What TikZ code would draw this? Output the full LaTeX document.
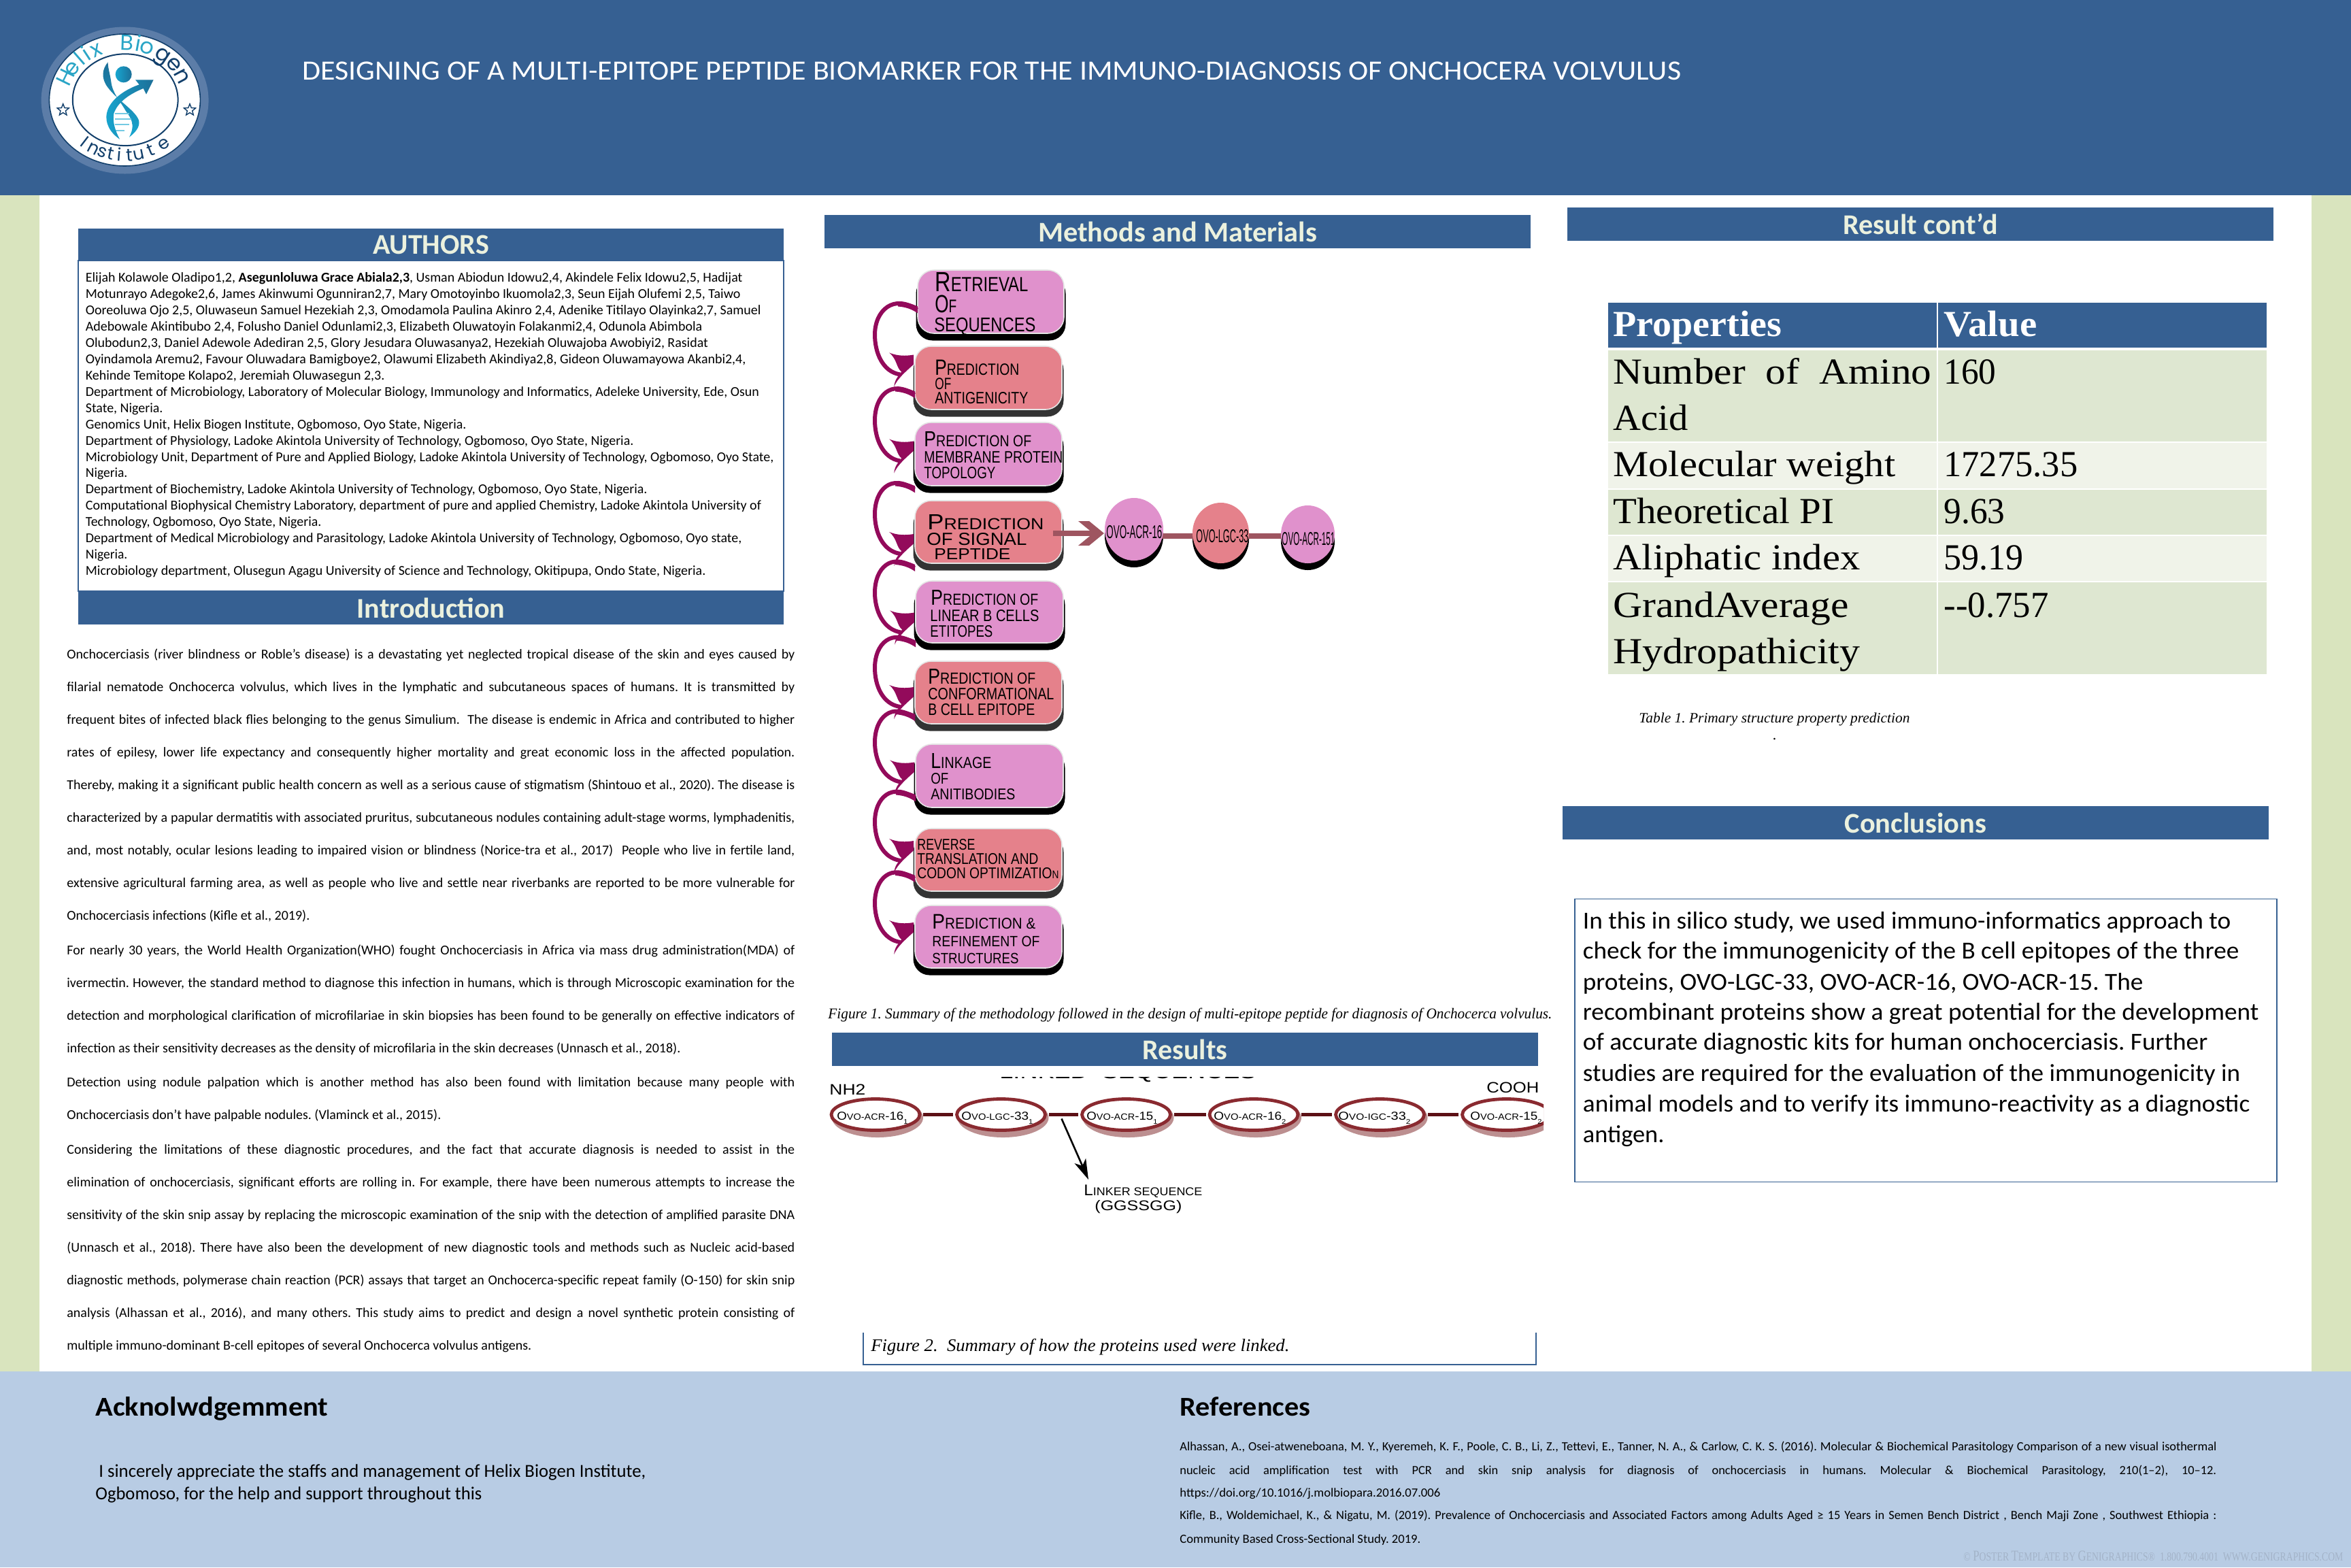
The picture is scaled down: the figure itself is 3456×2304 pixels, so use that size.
\documentclass[tikz,border=0pt]{standalone}
\usepackage{graphicx}
\usepackage{fontspec}
\setmainfont{Carlito}
\newfontfamily\arial{Liberation Sans}
\newfontfamily\tms{Liberation Serif}
\newfontfamily\logof{Poppins}
\usetikzlibrary{shapes.geometric,calc,arrows.meta}
\definecolor{hdr}{HTML}{366092}
\definecolor{sidegreen}{HTML}{D9E4BE}
\definecolor{footer}{HTML}{B8CCE4}
\definecolor{cream}{HTML}{EBF1DE}
\definecolor{pinkb}{HTML}{E091CC}
\definecolor{salmb}{HTML}{E5818B}
\definecolor{swoop}{HTML}{930A5B}
\definecolor{linkc}{HTML}{9E5560}
\definecolor{rowd}{HTML}{DEE7D1}
\definecolor{rowl}{HTML}{F0F3E9}
\definecolor{ringc}{HTML}{5C7DA8}
\definecolor{navy}{HTML}{123F6B}
\definecolor{tealc}{HTML}{2AA5C6}
\definecolor{tealm}{HTML}{17A6D0}
\definecolor{teald}{HTML}{1C6F98}
\definecolor{ellr}{HTML}{8A2A30}
\definecolor{ells}{HTML}{BC8F90}
\definecolor{lnkd}{HTML}{5C1015}
\definecolor{wmark}{HTML}{A3B3C8}
\newsavebox{\jbx}
\newcommand{\jfit}[2]{\sbox{\jbx}{\frenchspacing #2}\ifdim\wd\jbx>#1\relax\resizebox{#1}{\height}{\usebox{\jbx}}\else\hbox to #1{\unhbox\jbx}\fi}
% left line fitted to an end x
\newcommand{\tline}[6]{\pgfmathsetlengthmacro\tlw{(#5-#3)*0.5}\node[#1] (#2) at (#3,#4) {\resizebox{\tlw}{\height}{\frenchspacing #6}};}
% justified line
\newcommand{\jline}[6]{\pgfmathsetlengthmacro\tlw{(#5-#3)*0.5}\node[#1] (#2) at (#3,#4) {\jfit{\tlw}{#6}};}
% band with centred title
\newcommand{\band}[7]{\pgfmathsetlengthmacro\bw{(#4-#2)*0.5}\pgfmathsetlengthmacro\bh{(#5-#3)*0.5}\pgfmathsetlengthmacro\tlw{#6*0.5}\node[bandn,minimum width=\bw,minimum height=\bh] (#1) at ({(#2+#4)/2},{(#3+#5)/2}) {\resizebox{\tlw}{\height}{#7}};}
% flow box with a shadow
\newcommand{\flowbox}[7]{\pgfmathsetlengthmacro\bw{(#4-#2)*0.5}\pgfmathsetlengthmacro\bh{(#5-#3)*0.5}\pgfmathsetlengthmacro\sw{(#4-#2+5)*0.5}\node[flowsh,fill=#7,minimum width=\sw,minimum height=\bh] (#1s) at ({(#2+#4)/2},{(#3+#5)/2+10.5}) {};\node[flowbx,fill=#6,minimum width=\bw,minimum height=\bh] (#1) at ({(#2+#4)/2},{(#3+#5)/2}) {};}
% flow text: name x base endx capheight content
\newcommand{\ft}[6]{\pgfmathsetlengthmacro\tlw{(#4-#2)*0.5}\pgfmathsetlengthmacro\tlh{#5*0.5}\node[flowtxt] (#1) at (#2,#3) {\resizebox{\tlw}{\tlh}{#6}};}
\newcommand{\sm}[2]{{\fontsize{19}{19}\selectfont #1}{\fontsize{14}{14}\selectfont #2}}
% curved arrow between two boxes
\newcommand{\carrow}[4]{%
 \coordinate (S) at ($(#1.west)+(0,#2)$);
 \coordinate (T) at ($(#3.west)+(-1,#4)$);
 \coordinate (M) at ($(S)!.5!(T)$);
 \coordinate (L) at (X |- M);
 \fill[swoop] ($(S)+(1,-5)$) .. controls ($(S)+(-8,-9)$) and ($(S)+(-16,-12)$) .. ($(S)+(-30,-12)$) -- ($(S)+(-28,-5)$) .. controls ($(S)+(-16,-4)$) and ($(S)+(-8,-1)$) .. ($(S)+(1,5)$) -- cycle;
 \draw[swoopl] (S) .. controls ($(S)+(-34,-24)$) and ($(L)+(0,-36)$) .. (L) .. controls ($(L)+(0,26)$) and ($(T)+(-46,18)$) .. ($(T)+(-20,22)$);
 \fill[swoop] ($(T)+(-36,-10)$) .. controls ($(T)+(-24,-5)$) and ($(T)+(-12,-5)$) .. ($(T)+(0,-7)$) -- ($(T)+(0,7)$) .. controls ($(T)+(-12,18)$) and ($(T)+(-24,28)$) .. ($(T)+(-29,40)$) .. controls ($(T)+(-28,30)$) and ($(T)+(-24,26)$) .. ($(T)+(-18,18)$) .. controls ($(T)+(-26,12)$) and ($(T)+(-24,0)$) .. ($(T)+(-36,-10)$) -- cycle;
}
\newcommand{\ovot}[6]{\pgfmathsetlengthmacro\tlw{(#3-#2)*0.5}\node[ovotxt] (#1) at (#2,1646) {\resizebox{\tlw}{\height}{O{\fontsize{6.6}{7}\selectfont VO-#4}-#5\raisebox{-3pt}{\fontsize{5}{5}\selectfont #6}}};}
\newcommand{\ovoe}[3]{\node[ellsh] (#1s) at ({#2+3},{1643}) {};\node[ellr] (#1) at (#2,1638.5) {};}
\tikzset{
 bandn/.style={fill=hdr,draw=none,inner sep=0,text=cream,font=\bfseries\fontsize{21}{24}\selectfont},
 auth/.style={anchor=base west,inner sep=0,yshift=-3.8pt,font=\fontsize{10}{12}\selectfont},
 intro/.style={anchor=base west,inner sep=0,yshift=-3pt,font=\fontsize{10}{12}\selectfont},
 concl/.style={anchor=base west,inner sep=0,yshift=-4.8pt,font=\fontsize{18}{21}\selectfont},
 ackt/.style={anchor=base west,inner sep=0,yshift=-4.2pt,font=\fontsize{13.5}{16}\selectfont},
 refl/.style={anchor=base west,inner sep=0,yshift=-2.9pt,font=\fontsize{9.2}{11}\selectfont},
 headk/.style={anchor=base west,inner sep=0,font=\bfseries\fontsize{20}{24}\selectfont},
 flowbx/.style={rectangle,rounded corners=12pt,draw=white!80!gray,line width=0.8pt,inner sep=0},
 flowsh/.style={rectangle,rounded corners=12pt,draw=none,inner sep=0},
 flowtxt/.style={anchor=base west,inner sep=0,font=\arial\fontsize{14}{14}\selectfont},
 swoopl/.style={draw=swoop,line width=3pt},
 capt/.style={anchor=base west,inner sep=0,font=\tms\itshape\fontsize{11}{13}\selectfont},
 cellk/.style={anchor=base west,inner sep=0,font=\tms\fontsize{27}{30}\selectfont},
 cellh/.style={anchor=base west,inner sep=0,text=white,font=\tms\bfseries\fontsize{27}{30}\selectfont},
 circn/.style={ellipse,inner sep=0,draw=none},
 ellsh/.style={ellipse,fill=ells,draw=none,inner sep=0,minimum width=67pt,minimum height=29pt},
 ellr/.style={ellipse,fill=white,draw=ellr,line width=2.4pt,inner sep=0,minimum width=65pt,minimum height=23pt},
 ovotxt/.style={anchor=base west,inner sep=0,font=\arial\fontsize{8.5}{9}\selectfont},
 lnkl/.style={draw=lnkd,line width=2.6pt,shorten >=1.5pt,shorten <=1.5pt},
 chainl/.style={draw=linkc,line width=4.2pt},
 logostar/.style={star,star points=5,star point ratio=2.3,draw=navy,line width=0.7pt,fill=white,inner sep=0,minimum size=9pt},
 logotop/.style={anchor=base,inner sep=0,font=\logof\fontsize{16}{16}\selectfont},
 logobot/.style={anchor=base,inner sep=0,text=navy,font=\logof\fontsize{13}{13}\selectfont},
}
\begin{document}
\begin{tikzpicture}[x=0.5pt,y=-0.5pt]
\useasboundingbox (0,0) rectangle (3456,2304);
\fill[white] (0,0) rectangle (3456,2304);
\fill[sidegreen] (0,287) rectangle (58,2016);
\fill[sidegreen] (3398,287) rectangle (3456,2016);
\fill[hdr] (0,0) rectangle (3456,287);
\fill[footer] (0,2016) rectangle (3456,2304);
% logo
\fill[ringc] (183.6,147.5) ellipse [x radius=61.5pt,y radius=54pt];
\draw[navy,line width=0.8pt,fill=white] (183.4,147) ellipse [x radius=55.5pt,y radius=48.5pt];
\draw[navy,line width=1pt] (184.2,146.7) ellipse [x radius=38.7pt,y radius=33.7pt];
\node[logostar] (star1) at (92.7,161.7) {};
\node[logostar] (star2) at (279,161.7) {};
\foreach \ch/\tt/\cc [count=\n] in {H/157/tealc,e/146/tealc,l/135/tealc,i/127/tealc,x/117/tealc,B/88/tealc,i/78/tealc,o/69/tealc,g/53/navy,e/39/navy,n/25/navy}{
 \pgfmathsetmacro\rr{atan2(-73*cos(\tt),84*sin(\tt))}
 \node[logotop,text=\cc,rotate=\rr] (lt\n) at ({183.5+84*cos(\tt)},{147-73*sin(\tt)}) {\ch};
}
\foreach \ch/\tt [count=\n] in {I/229.5,n/240,s/249,t/257,i/265,t/274,u/283,t/294.5,e/308}{
 \pgfmathsetmacro\rr{atan2(90*cos(\tt),-100*sin(\tt))}
 \node[logobot,rotate=\rr] (lb\n) at ({183.5+100*cos(\tt)},{147-90*sin(\tt)}) {\ch};
}
\begin{scope}[x=0.16667pt,y=-0.16667pt,shift={(25pt,-15pt)}]
 \shade[left color=tealm,right color=teald] (395,238) circle [radius=6pt];
 \shade[top color=teald,bottom color=tealm] (326,184) .. controls (300,215) and (295,255) .. (325,295) .. controls (370,355) and (445,395) .. (462,440) .. controls (470,470) and (445,495) .. (420,515) .. controls (437,480) and (445,450) .. (405,400) .. controls (380,355) and (345,320) .. (340,270) .. controls (335,235) and (325,205) .. (326,184) -- cycle;
 \foreach \yy/\xe in {412/420,435/430,460/420,485/400}{\draw[tealm!60,line width=1.1pt] (358,\yy) -- (\xe,\yy);}
 \shade[left color=tealm,right color=teald] (447,262) -- (527,262) -- (495,326) -- (482,300) .. controls (420,325) and (370,360) .. (352,410) .. controls (345,450) and (360,490) .. (378,524) .. controls (335,495) and (310,450) .. (322,405) .. controls (335,350) and (400,305) .. (464,283) -- cycle;
\end{scope}
% title
\tline{anchor=base west,inner sep=0,text=white,font=\fontsize{20.5}{24}\selectfont}{title}{444}{117.4}{2471}{DESIGNING OF A MULTI-EPITOPE PEPTIDE BIOMARKER FOR THE IMMUNO-DIAGNOSIS OF ONCHOCERA VOLVULUS}
% authors
\node[rectangle,fill=white,draw=hdr,line width=0.8pt,inner sep=0,minimum width=518.5pt,minimum height=243pt] (authbox) at (633.5,626) {};
\band{authband}{115}{336}{1152}{384}{171}{AUTHORS}
\band{introband}{115}{869}{1152}{918}{218}{Introduction}
\tline{auth}{a1}{125.5}{406.7}{1091}{Elijah Kolawole Oladipo1,2, \textbf{Asegunloluwa Grace Abiala2,3}, Usman Abiodun Idowu2,4, Akindele Felix Idowu2,5, Hadijat}
\tline{auth}{a2}{125.5}{430.7}{1088}{Motunrayo Adegoke2,6, James Akinwumi Ogunniran2,7, Mary Omotoyinbo Ikuomola2,3, Seun Eijah Olufemi 2,5, Taiwo}
\tline{auth}{a3}{125.5}{454.6}{1118}{Ooreoluwa Ojo 2,5, Oluwaseun Samuel Hezekiah 2,3, Omodamola Paulina Akinro 2,4, Adenike Titilayo Olayinka2,7, Samuel}
\tline{auth}{a4}{125.5}{478.6}{1032}{Adebowale Akintibubo 2,4, Folusho Daniel Odunlami2,3, Elizabeth Oluwatoyin Folakanmi2,4, Odunola Abimbola}
\tline{auth}{a5}{125.5}{502.6}{1040.6}{Olubodun2,3, Daniel Adewole Adediran 2,5, Glory Jesudara Oluwasanya2, Hezekiah Oluwajoba Awobiyi2, Rasidat}
\tline{auth}{a6}{125.5}{526.5}{1096}{Oyindamola Aremu2, Favour Oluwadara Bamigboye2, Olawumi Elizabeth Akindiya2,8, Gideon Oluwamayowa Akanbi2,4,}
\tline{auth}{a7}{125.5}{550.5}{565}{Kehinde Temitope Kolapo2, Jeremiah Oluwasegun 2,3.}
\tline{auth}{a8}{125.5}{574.5}{1115.5}{Department of Microbiology, Laboratory of Molecular Biology, Immunology and Informatics, Adeleke University, Ede, Osun}
\tline{auth}{a9}{125.5}{598.5}{239}{State, Nigeria.}
\tline{auth}{a10}{125.5}{622.4}{685}{Genomics Unit, Helix Biogen Institute, Ogbomoso, Oyo State, Nigeria.}
\tline{auth}{a11}{125.5}{646.4}{931}{Department of Physiology, Ladoke Akintola University of Technology, Ogbomoso, Oyo State, Nigeria.}
\tline{auth}{a12}{125.5}{670.4}{1137}{Microbiology Unit, Department of Pure and Applied Biology, Ladoke Akintola University of Technology, Ogbomoso, Oyo State,}
\tline{auth}{a13}{125.5}{694.3}{187}{Nigeria.}
\tline{auth}{a14}{125.5}{718.3}{951}{Department of Biochemistry, Ladoke Akintola University of Technology, Ogbomoso, Oyo State, Nigeria.}
\tline{auth}{a15}{125.5}{742.3}{1118.6}{Computational Biophysical Chemistry Laboratory, department of pure and applied Chemistry, Ladoke Akintola University of}
\tline{auth}{a16}{125.5}{766.2}{472}{Technology, Ogbomoso, Oyo State, Nigeria.}
\tline{auth}{a17}{125.5}{790.2}{1090}{Department of Medical Microbiology and Parasitology, Ladoke Akintola University of Technology, Ogbomoso, Oyo state,}
\tline{auth}{a18}{125.5}{814.2}{187}{Nigeria.}
\tline{auth}{a19}{125.5}{838.2}{1037}{Microbiology department, Olusegun Agagu University of Science and Technology, Okitipupa, Ondo State, Nigeria.}
% introduction
\jline{intro}{i1}{98}{962}{1168}{Onchocerciasis (river blindness or Roble's disease) is a devastating yet neglected tropical disease of the skin and eyes caused by}
\jline{intro}{i2}{98}{1010}{1168}{filarial nematode Onchocerca volvulus, which lives in the lymphatic and subcutaneous spaces of humans. It is transmitted by}
\jline{intro}{i3}{98}{1058}{1168}{frequent bites of infected black flies belonging to the genus Simulium.\ \ The disease is endemic in Africa and contributed to higher}
\jline{intro}{i4}{98}{1106}{1168}{rates of epilesy, lower life expectancy and consequently higher mortality and great economic loss in the affected population.}
\jline{intro}{i5}{98}{1154}{1168}{Thereby, making it a significant public health concern as well as a serious cause of stigmatism (Shintouo et al., 2020). The disease is}
\jline{intro}{i6}{98}{1202}{1168}{characterized by a papular dermatitis with associated pruritus, subcutaneous nodules containing adult-stage worms, lymphadenitis,}
\jline{intro}{i7}{98}{1250}{1168}{and, most notably, ocular lesions leading to impaired vision or blindness (Norice-tra et al., 2017)\ \ People who live in fertile land,}
\jline{intro}{i8}{98}{1298}{1168}{extensive agricultural farming area, as well as people who live and settle near riverbanks are reported to be more vulnerable for}
\tline{intro}{i9}{98}{1346}{455}{Onchocerciasis infections (Kifle et al., 2019).}
\jline{intro}{i10}{98}{1397}{1168}{For nearly 30 years, the World Health Organization(WHO) fought Onchocerciasis in Africa via mass drug administration(MDA) of}
\jline{intro}{i11}{98}{1445}{1168}{ivermectin. However, the standard method to diagnose this infection in humans, which is through Microscopic examination for the}
\jline{intro}{i12}{98}{1493}{1168}{detection and morphological clarification of microfilariae in skin biopsies has been found to be generally on effective indicators of}
\tline{intro}{i13}{98}{1541}{1000}{infection as their sensitivity decreases as the density of microfilaria in the skin decreases (Unnasch et al., 2018).}
\jline{intro}{i14}{98}{1591}{1168}{Detection using nodule palpation which is another method has also been found with limitation because many people with}
\tline{intro}{i15}{98}{1639}{648}{Onchocerciasis don't have palpable nodules. (Vlaminck et al., 2015).}
\jline{intro}{i16}{98}{1690}{1168}{Considering the limitations of these diagnostic procedures, and the fact that accurate diagnosis is needed to assist in the}
\jline{intro}{i17}{98}{1738}{1168}{elimination of onchocerciasis, significant efforts are rolling in. For example, there have been numerous attempts to increase the}
\jline{intro}{i18}{98}{1786}{1168}{sensitivity of the skin snip assay by replacing the microscopic examination of the snip with the detection of amplified parasite DNA}
\jline{intro}{i19}{98}{1834}{1168}{(Unnasch et al., 2018). There have also been the development of new diagnostic tools and methods such as Nucleic acid-based}
\jline{intro}{i20}{98}{1882}{1168}{diagnostic methods, polymerase chain reaction (PCR) assays that target an Onchocerca-specific repeat family (O-150) for skin snip}
\jline{intro}{i21}{98}{1930}{1168}{analysis (Alhassan et al., 2016), and many others. This study aims to predict and design a novel synthetic protein consisting of}
\tline{intro}{i22}{98}{1978}{781}{multiple immuno-dominant B-cell epitopes of several Onchocerca volvulus antigens.}
% methods
\band{methband}{1212}{316}{2250}{365}{410}{Methods and Materials}
\flowbox{b1}{1349}{397}{1564}{490}{pinkb}{black}
\flowbox{b2}{1345}{509}{1561}{602}{salmb}{black!80}
\flowbox{b3}{1345}{621}{1561}{714}{pinkb}{black}
\flowbox{b4}{1345}{736}{1561}{828}{salmb}{black!80}
\flowbox{b5}{1346}{854}{1563}{945}{pinkb}{black}
\flowbox{b6}{1345}{972}{1561}{1064}{salmb}{black!80}
\flowbox{b7}{1346}{1094}{1563}{1187}{pinkb}{black}
\flowbox{b8}{1345}{1218}{1561}{1310}{salmb}{black!80}
\flowbox{b9}{1345}{1331}{1561}{1423}{pinkb}{black}
\coordinate (X) at (1286,0);
\carrow{b1}{12}{b2}{-27}
\carrow{b2}{25}{b3}{-12}
\carrow{b3}{52}{b4}{10}
\carrow{b4}{53}{b5}{8}
\carrow{b5}{47}{b6}{-1}
\carrow{b6}{37}{b7}{-13}
\carrow{b7}{33}{b8}{-21}
\carrow{b8}{28}{b9}{-14}
\ft{t1a}{1374}{428.6}{1511}{28}{\sm{R}{ETRIEVAL}}
\ft{t1b}{1374}{459}{1406}{25.5}{\sm{O}{F}}
\ft{t1c}{1373}{487}{1522}{20.4}{SEQUENCES}
\ft{t2a}{1374}{551}{1498}{22.4}{\sm{P}{REDICTION}}
\ft{t2b}{1374}{572}{1398}{16.8}{OF}
\ft{t2c}{1374}{593}{1511}{17}{ANTIGENICITY}
\ft{t3a}{1358}{656}{1516}{22}{\sm{P}{REDICTION OF}}
\ft{t3b}{1358}{680}{1562}{17}{MEMBRANE PROTEIN}
\ft{t3c}{1358}{703}{1463}{17}{TOPOLOGY}
\ft{t4a}{1363}{778.6}{1534}{22}{\sm{P}{REDICTION}}
\ft{t4b}{1362}{801}{1509}{18}{OF SIGNAL}
\ft{t4c}{1373}{822}{1485}{16}{PEPTIDE}
\ft{t5a}{1368}{889}{1526}{22}{\sm{P}{REDICTION OF}}
\ft{t5b}{1367}{913}{1527}{17}{LINEAR B CELLS}
\ft{t5c}{1367}{936}{1459}{17}{ETITOPES}
\ft{t6a}{1364}{1005}{1522}{22}{\sm{P}{REDICTION OF}}
\ft{t6b}{1364}{1028.6}{1549}{17}{CONFORMATIONAL}
\ft{t6c}{1364}{1051.5}{1521}{17}{B CELL EPITOPE}
\ft{t7a}{1368}{1129}{1457}{22}{\sm{L}{INKAGE}}
\ft{t7b}{1368}{1152}{1394}{16}{OF}
\ft{t7c}{1368}{1175.7}{1492}{16}{ANITIBODIES}
\ft{t8a}{1348}{1249}{1433}{16}{REVERSE}
\ft{t8b}{1348}{1270}{1526}{16}{TRANSLATION AND}
\ft{t8c}{1348}{1291}{1556}{16}{CODON OPTIMIZATIO{\fontsize{10}{10}\selectfont N}}
\ft{t9a}{1370}{1365.7}{1522}{21.3}{\sm{P}{REDICTION \&}}
\ft{t9b}{1370}{1391}{1528}{15.3}{REFINEMENT OF}
\ft{t9c}{1370}{1416}{1497}{15.3}{STRUCTURES}
% signal peptide chain
\node[circn,fill=black,minimum width=43pt,minimum height=46pt] (c1s) at (1667,788) {};
\node[circn,fill=black,minimum width=41.5pt,minimum height=44.5pt] (c2s) at (1794.5,792.5) {};
\node[circn,fill=black,minimum width=39.5pt,minimum height=42.5pt] (c3s) at (1922.5,795.5) {};
\coordinate (ch1) at ($(b4.east)+(-14,2)$);
\coordinate (ch2) at (1612,784);
\draw[chainl] (ch1) -- (ch2);
\fill[linkc] (1585,766) -- (1601,766) -- (1623,784) -- (1601,802) -- (1585,802) -- (1607,784) -- cycle;
\draw[chainl] (1700,788) -- (1760,788);
\draw[chainl] (1830,788) -- (1890,788);
\node[circn,fill=pinkb,minimum width=43pt,minimum height=46pt] (c1) at (1667,778) {};
\node[circn,fill=salmb,minimum width=41.5pt,minimum height=44.5pt] (c2) at (1794.5,783.5) {};
\node[circn,fill=pinkb,minimum width=39.5pt,minimum height=42.5pt] (c3) at (1922.5,785.5) {};
\ft{c1t}{1626}{791}{1708}{19}{OVO-ACR-16}
\ft{c2t}{1758}{797}{1835}{19}{OVO-LGC-33}
\ft{c3t}{1884}{801}{1962}{19}{OVO-ACR-151}
% captions
\tline{capt}{cap1}{1217}{1497}{2281}{Figure 1. Summary of the methodology followed in the design of multi-epitope peptide for diagnosis of Onchocerca volvulus.}
\band{resband}{1223}{1518}{2261}{1567}{125}{Results}
% cropped label
\begin{scope}
 \clip (1460,1583) rectangle (1860,1590);
 \node[anchor=base west,inner sep=0,font=\arial\fontsize{14}{14}\selectfont] (linkedtop) at (1469,1585.5) {\resizebox{188.5pt}{\height}{LINKED\ \ SEQUENCES}};
\end{scope}
\ft{nh}{1219}{1609}{1272}{15.5}{NH2}
\ft{cooh}{2185}{1606}{2262}{15.5}{COOH}
\ovoe{e1}{1287}{}
\ovoe{e2}{1471.5}{}
\ovoe{e3}{1655.5}{}
\ovoe{e4}{1843}{}
\ovoe{e5}{2028.5}{}
\begin{scope}
 \clip (2120,1600) rectangle (2269,1690);
 \ovoe{e6}{2214.5}{}
\end{scope}
\draw[lnkl] (e1.east) -- (e2.west);
\draw[lnkl] (e2.east) -- (e3.west);
\draw[lnkl] (e3.east) -- (e4.west);
\draw[lnkl] (e4.east) -- (e5.west);
\draw[lnkl] (e5.east) -- (e6.west);
\ovot{e1t}{1230}{1334}{ACR}{16}{1}
\ovot{e2t}{1413}{1518}{LGC}{33}{1}
\ovot{e3t}{1597}{1701}{ACR}{15}{1}
\ovot{e4t}{1784}{1890}{ACR}{16}{2}
\ovot{e5t}{1967}{2073}{IGC}{33}{2}
\ovot{e6t}{2161}{2266}{ACR}{15}{2}
\coordinate (lmid) at ($(e2.east)!.5!(e3.west)$);
\node[flowtxt] (lk1) at (1593,1757.6) {\resizebox{87pt}{7.8pt}{\sm{L}{INKER SEQUENCE}}};
\node[flowtxt] (lk2) at (1609,1779) {\resizebox{64pt}{7.5pt}{(GGSSGG)}};
\coordinate (lktip) at (1600,1734);
\draw[line width=1.3pt,-{Stealth[length=15pt,width=9pt,inset=4pt]}] ($(lmid)+(-3,6)$) -- (lktip);
\draw[hdr,line width=0.8pt] (1269,1959) -- (1269,2006) -- (2258,2006) -- (2258,1959);
\tline{capt,font=\tms\itshape\fontsize{13}{15}\selectfont}{cap2}{1280}{1986}{1895}{Figure 2.\ \ Summary of how the proteins used were linked.}
% right column
\band{contband}{2304}{305}{3342}{354}{227}{Result cont’d}
\fill[hdr] (2364,445) rectangle (3332,511);
\fill[rowd] (2364,515) rectangle (3332,649);
\fill[rowl] (2364,651) rectangle (3332,718);
\fill[rowd] (2364,719.5) rectangle (3332,786);
\fill[rowl] (2364,788) rectangle (3332,854);
\fill[rowd] (2364,856) rectangle (3332,991);
\draw[white,line width=0.7pt] (2848,445) -- (2848,991);
\tline{cellh}{th1}{2371}{494}{2619}{Properties}
\tline{cellh}{th2}{2857}{494}{2994}{Value}
\tline{cellk}{r1a}{2371}{564}{2839}{Number\ \ of\ \ Amino}
\tline{cellk}{r1c}{2371}{632.5}{2481}{Acid}
\tline{cellk}{r1b}{2857}{564}{2934}{160}
\tline{cellk}{r2a}{2371}{700}{2786}{Molecular weight}
\tline{cellk}{r2b}{2857}{700}{3054}{17275.35}
\tline{cellk}{r3a}{2371}{769}{2696}{Theoretical PI}
\tline{cellk}{r3b}{2857}{769}{2947}{9.63}
\tline{cellk}{r4a}{2371}{837}{2734}{Aliphatic index}
\tline{cellk}{r4b}{2857}{837}{2974}{59.19}
\tline{cellk}{r5a}{2371}{907}{2717}{GrandAverage}
\tline{cellk}{r5b}{2857}{907}{3011}{--0.757}
\tline{cellk}{r5c}{2371}{975}{2734}{Hydropathicity}
\tline{capt,font=\tms\itshape\fontsize{10.5}{13}\selectfont}{cap3}{2409}{1062}{2807}{Table 1. Primary structure property prediction}
\node[capt] (dot) at (2606,1087) {.};
\band{concband}{2297}{1185}{3335}{1234}{208.5}{Conclusions}
\node[rectangle,fill=white,draw=hdr,line width=0.7pt,inner sep=0,minimum width=516pt,minimum height=208pt] (concbox) at (2831,1529.75) {};
\tline{concl}{k1}{2326.5}{1355.6}{3279}{In this in silico study, we used immuno-informatics approach to}
\tline{concl}{k2}{2326.5}{1400}{3291}{check for the immunogenicity of the B cell epitopes of the three}
\tline{concl}{k3}{2326.5}{1445.5}{3150}{proteins, OVO-LGC-33, OVO-ACR-16, OVO-ACR-15. The}
\tline{concl}{k4}{2326.5}{1489.6}{3320}{recombinant proteins show a great potential for the development}
\tline{concl}{k5}{2326.5}{1534}{3245}{of accurate diagnostic kits for human onchocerciasis. Further}
\tline{concl}{k6}{2326.5}{1579.5}{3293}{studies are required for the evaluation of the immunogenicity in}
\tline{concl}{k7}{2326.5}{1624.6}{3307}{animal models and to verify its immuno-reactivity as a diagnostic}
\tline{concl}{k8}{2326.5}{1669.4}{2446}{antigen.}
% footer
\tline{headk}{ackh}{140}{2081.7}{482}{Acknolwdgemment}
\tline{ackt}{ack1}{145}{2163}{949}{I sincerely appreciate the staffs and management of Helix Biogen Institute,}
\tline{ackt}{ack2}{140}{2196}{708}{Ogbomoso, for the help and support throughout this}
\tline{headk}{refh}{1734}{2081.7}{1926}{References}
\jline{refl}{rf1}{1734}{2127}{3258}{Alhassan, A., Osei-atweneboana, M. Y., Kyeremeh, K. F., Poole, C. B., Li, Z., Tettevi, E., Tanner, N. A., \& Carlow, C. K. S. (2016). Molecular \& Biochemical Parasitology Comparison of a new visual isothermal}
\jline{refl}{rf2}{1734}{2162}{3258}{nucleic acid amplification test with PCR and skin snip analysis for diagnosis of onchocerciasis in humans. Molecular \& Biochemical Parasitology, 210(1–2), 10–12.}
\tline{refl}{rf3}{1734}{2195}{2117}{https://doi.org/10.1016/j.molbiopara.2016.07.006}
\jline{refl}{rf4}{1734}{2228}{3258}{Kifle, B., Woldemichael, K., \& Nigatu, M. (2019). Prevalence of Onchocerciasis and Associated Factors among Adults Aged ≥ 15 Years in Semen Bench District , Bench Maji Zone , Southwest Ethiopia :}
\tline{refl}{rf5}{1734}{2263}{2088}{Community Based Cross-Sectional Study. 2019.}
\tline{anchor=base west,inner sep=0,text=wmark,font=\tms\fontsize{9}{10}\selectfont}{wm}{2886}{2294}{3444}{© {\fontsize{11}{11}\selectfont P}OSTER {\fontsize{11}{11}\selectfont T}EMPLATE BY {\fontsize{11}{11}\selectfont G}ENIGRAPHICS®\ \ 1.800.790.4001\ \ WWW.GENIGRAPHICS.COM}
\end{tikzpicture}
\end{document}
